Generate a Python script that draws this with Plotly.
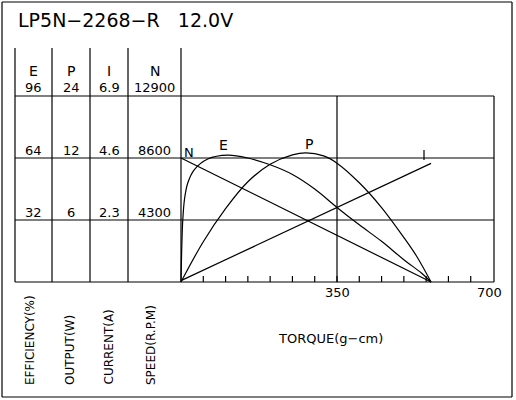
import plotly.graph_objects as go

# ---- data ----
torque_e = [0, 2, 4, 8, 15, 30, 60, 105, 150, 200, 250, 300, 350, 400, 450, 500, 540, 561]
eff = [0, 20, 32, 43, 51, 58, 63.5, 65.5, 64, 60.5, 55.5, 48, 38.5, 29.5, 21, 11.5, 4.5, 0]
torque_p = [0, 50, 100, 150, 200, 250, 280, 320, 350, 400, 450, 500, 530, 561]
power = [0, 3.9, 7.1, 9.7, 11.4, 12.3, 12.5, 12.2, 11.5, 9.6, 7.2, 4.3, 2.4, 0]
torque_n = [0, 561]
speed = [8600, 0]
torque_i = [0, 561]
current = [0.05, 4.4]

title = "LP5N\u22122268\u2212R   12.0V"
col_heads = ["E", "P", "I", "N"]
col_vals = [["96", "64", "32"], ["24", "12", "6"], ["6.9", "4.6", "2.3"], ["12900", "8600", "4300"]]
axis_labels = ["EFFICIENCY(%)", "OUTPUT(W)", "CURRENT(A)", "SPEED(R.P.M)"]

# scale factors onto common (efficiency) axis: 32 units per grid step
kE, kP, kI, kN = 1.0, 32 / 6, 32 / 2.3, 32 / 4300

W, H = 516, 400
X0, XPX = 181, 156 / 350   # pixel of torque 0, px per g-cm
Y0, YPX = 282, 62 / 32     # pixel of 0, px per unit
def px2x(p): return (p - X0) / XPX
def py2y(p): return (Y0 - p) / YPX
def PX(p): return p / W
def PY(p): return 1 - p / H

fig = go.Figure()
for xs, ys, k in [(torque_e, eff, kE), (torque_p, power, kP), (torque_n, speed, kN), (torque_i, current, kI)]:
    fig.add_trace(go.Scatter(x=xs, y=[v * k for v in ys], mode="lines",
                             line=dict(color="black", width=1.2, shape="spline" if len(xs) > 2 else "linear"),
                             hoverinfo="skip"))

shapes = []
def seg(x0, y0, x1, y1, w=1.2):
    shapes.append(dict(type="line", xref="paper", yref="paper", x0=PX(x0), y0=PY(y0),
                       x1=PX(x1), y1=PY(y1), line=dict(color="black", width=w)))
seg(2, 2, 512, 2); seg(2, 397, 512, 397); seg(2, 2, 2, 397); seg(512, 2, 512, 397)
for x in [15, 52, 90, 128, 181]:
    seg(x, 48, x, 282)
for y in [96, 158, 220, 282]:
    seg(15, y, 494, y)
seg(494, 96, 494, 282)
seg(337, 96, 337, 282)
for t in range(50, 700, 50):
    xp = X0 + t * XPX
    seg(xp, 282, xp, 276)
seg(424, 150, 424, 160)

ann = []
def txt(x, y, s, size=13, xa="center", ya="middle", angle=0):
    ann.append(dict(x=PX(x), y=PY(y), xref="paper", yref="paper", text=s, showarrow=False,
                    xanchor=xa, yanchor=ya, textangle=angle,
                    font=dict(family="DejaVu Sans", size=size, color="black")))
txt(16, 20, title, size=19, xa="left")
cols = [(15, 52), (52, 90), (90, 128), (128, 181)]
for (a, b), h, vals in zip(cols, col_heads, col_vals):
    c = (a + b) / 2
    txt(c, 71, h, size=14)
    for v, y in zip(vals, [88, 150, 212]):
        txt(c, y, v, size=13)
for x, s in zip([30, 70, 108, 151], axis_labels):
    txt(x, 387, s, size=12, ya="bottom", angle=-90)
txt(X0 + 350 * XPX, 292, "350", size=13)
txt(489, 292, "700", size=13)
txt(330, 338, "TORQUE(g\u2212cm)", size=13)
txt(189, 152, "N", size=13)
txt(223, 145, "E", size=14)
txt(309, 144, "P", size=14)

fig.update_layout(width=W, height=H, margin=dict(l=0, r=0, t=0, b=0),
                  paper_bgcolor="white", plot_bgcolor="white", showlegend=False,
                  shapes=shapes, annotations=ann,
                  xaxis=dict(range=[px2x(0), px2x(W)], visible=False, fixedrange=True),
                  yaxis=dict(range=[py2y(H), py2y(0)], visible=False, fixedrange=True))
fig.write_html("out.html", config={"displayModeBar": False},
               post_script="document.body.style.margin='0';document.body.style.overflow='hidden';")
